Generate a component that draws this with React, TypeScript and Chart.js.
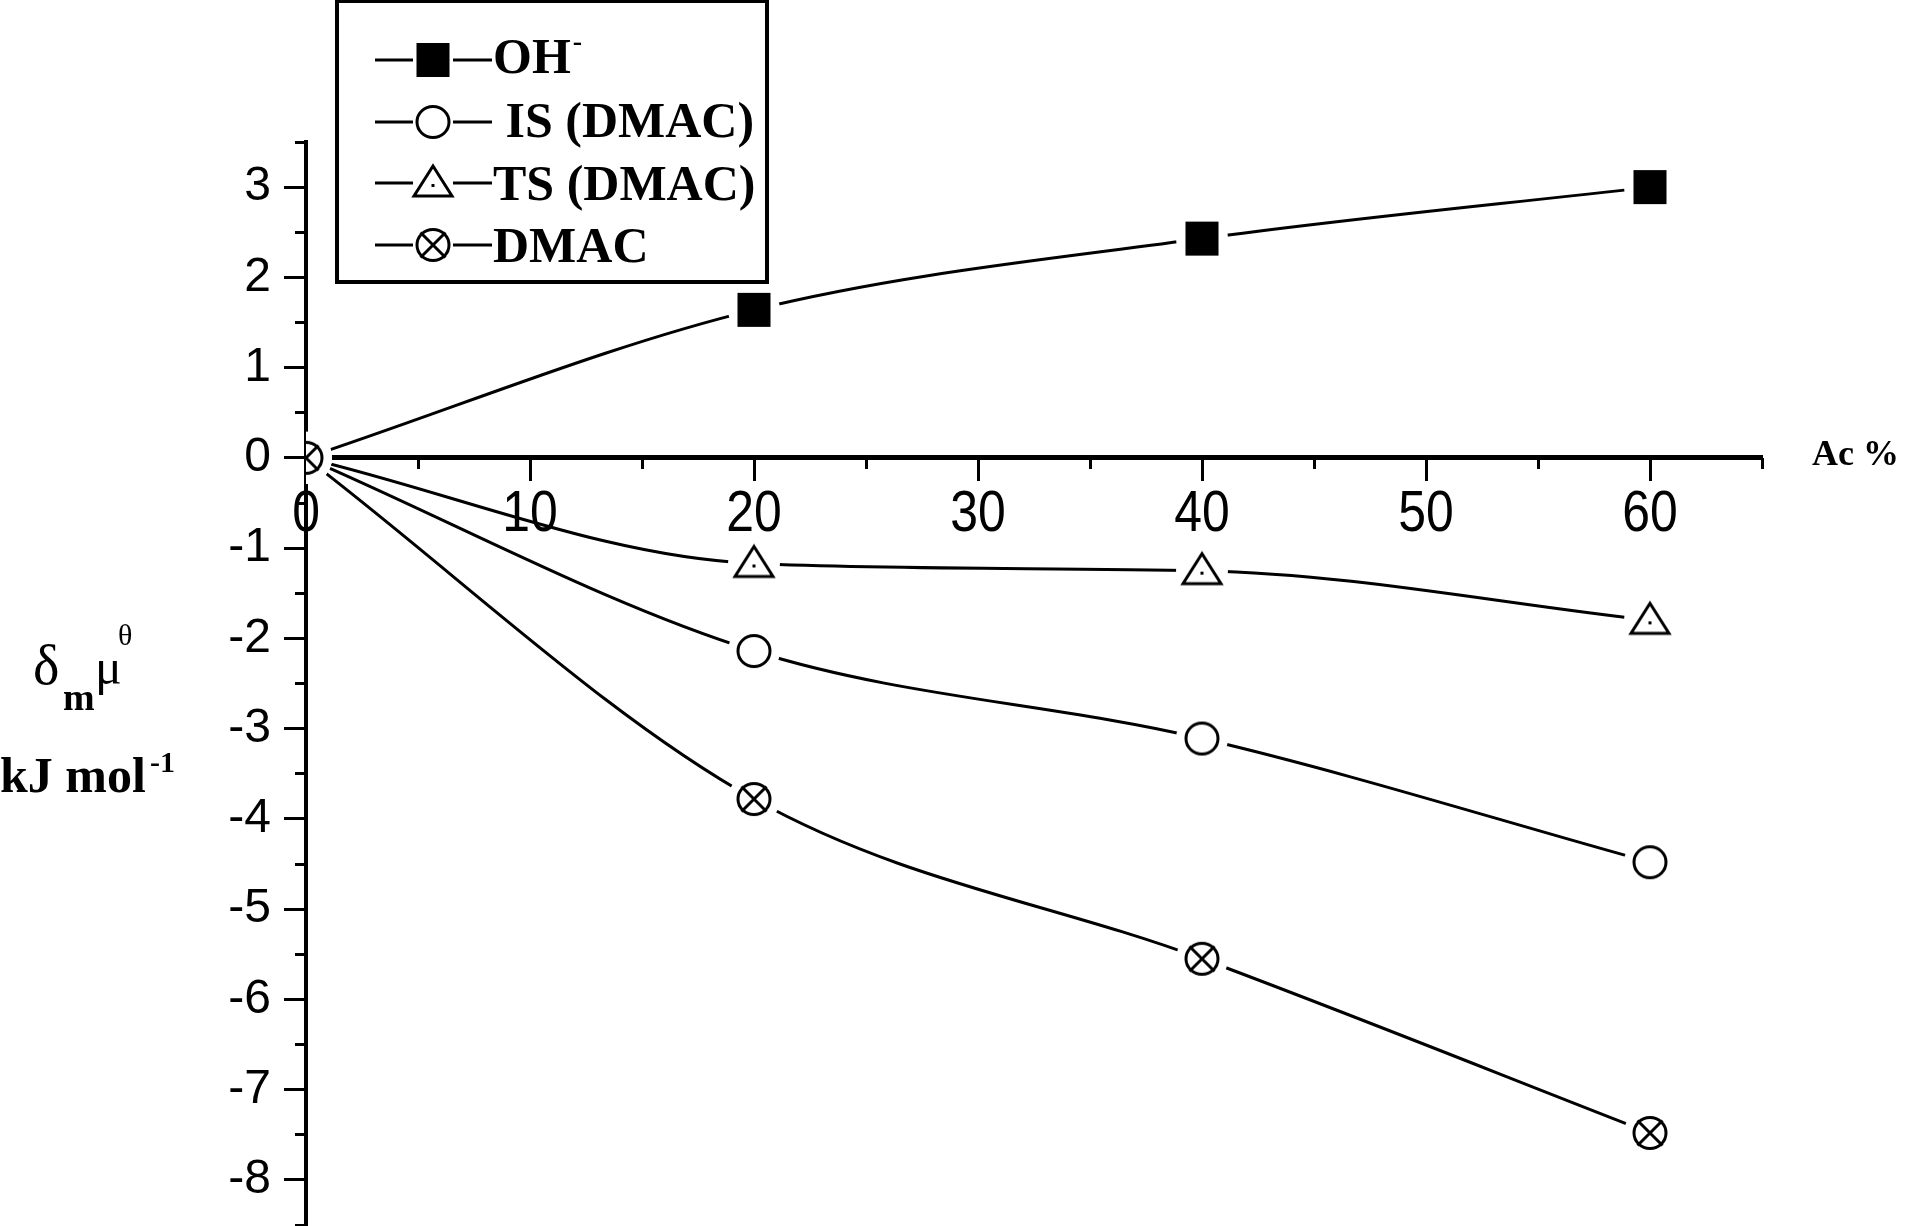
import React, { useEffect, useRef } from "react";
import { Chart, registerables, LinearScale } from "chart.js";

Chart.register(...registerables);

// ---- data ----
const X_VALUES = [0, 20, 40, 60];
const OH_VALUES = [0, 1.64, 2.43, 3.0];
const IS_VALUES = [0, -2.14, -3.11, -4.48];
const TS_VALUES = [0, -1.17, -1.25, -1.8];
const DMAC_VALUES = [0, -3.78, -5.55, -7.48];

const SERIES_NAMES = ["OH", " IS (DMAC)", "TS (DMAC)", "DMAC"];
const SERIES_MARKERS = ["square", "circle", "triangle", "crossed"];

const X_TICK_VALUES = [0, 10, 20, 30, 40, 50, 60];
const Y_TICK_VALUES = [-8, -7, -6, -5, -4, -3, -2, -1, 0, 1, 2, 3];

const X_MIN = 0;
const X_MAX = 65;
const X_MINOR_STEP = 5;
const Y_MIN = -8.5;
const Y_MAX = 3.5;
const Y_MINOR_STEP = 0.5;

const X_TITLE = "Ac %";
const Y_TITLE_PARTS = ["δ", "m", "μ", "θ"];
const Y_UNIT = "kJ mol";
const Y_UNIT_SUP = "-1";

const SERIF = "'Liberation Serif', 'Times New Roman', serif";
const SANS = "'Liberation Sans', Arial, sans-serif";

// Linear scale whose tick labels are drawn horizontally condensed (like Arial Narrow)
class CondensedLinearScale extends (LinearScale as any) {
  static id = "condensedLinear";
  static defaults = {};
  drawLabels(chartArea: any) {
    const opts = (this as any).options;
    if (!opts.display || !opts.ticks.display) return;
    const ctx = (this as any).ctx as CanvasRenderingContext2D;
    const items = (this as any).getLabelItems(chartArea);
    const sx = opts.ticks.condense || 1;
    for (const item of items) {
      const { label, font, textOffset, options } = item;
      ctx.save();
      ctx.translate(options.translation[0], options.translation[1]);
      ctx.scale(sx, 1);
      ctx.font = font.string;
      ctx.fillStyle = options.color;
      ctx.textAlign = options.textAlign;
      ctx.textBaseline = options.textBaseline;
      ctx.fillText(String(label), 0, textOffset);
      ctx.restore();
    }
  }
}
Chart.register(CondensedLinearScale as any);

function makeMarker(kind: string, halo: boolean): HTMLCanvasElement {
  const c = document.createElement("canvas");
  const size = 60;
  c.width = size;
  c.height = size;
  const ctx = c.getContext("2d")!;
  const cx = size / 2;
  const cy = size / 2;
  if (halo) {
    ctx.fillStyle = "#fff";
    ctx.beginPath();
    ctx.arc(cx, cy, 26, 0, Math.PI * 2);
    ctx.fill();
  }
  ctx.lineWidth = 3;
  ctx.strokeStyle = "#000";
  ctx.fillStyle = "#000";
  if (kind === "square") {
    ctx.fillRect(cx - 16.5, cy - 17, 33, 34);
  } else if (kind === "circle") {
    ctx.beginPath();
    ctx.ellipse(cx, cy, 16, 15.5, 0, 0, Math.PI * 2);
    ctx.fillStyle = "#fff";
    ctx.fill();
    ctx.stroke();
  } else if (kind === "triangle") {
    ctx.beginPath();
    ctx.moveTo(cx, cy - 17);
    ctx.lineTo(cx + 19, cy + 13);
    ctx.lineTo(cx - 19, cy + 13);
    ctx.closePath();
    ctx.fillStyle = "#fff";
    ctx.fill();
    ctx.stroke();
    ctx.fillStyle = "#000";
    ctx.fillRect(cx - 1.5, cy + 1, 3, 3);
  } else if (kind === "crossed") {
    ctx.beginPath();
    ctx.ellipse(cx, cy, 16, 15.5, 0, 0, Math.PI * 2);
    ctx.fillStyle = "#fff";
    ctx.fill();
    ctx.stroke();
    ctx.beginPath();
    ctx.moveTo(cx - 12.5, cy - 12.5);
    ctx.lineTo(cx + 12.5, cy + 12.5);
    ctx.moveTo(cx + 12.5, cy - 12.5);
    ctx.lineTo(cx - 12.5, cy + 12.5);
    ctx.stroke();
  }
  return c;
}

export default function App() {
  const canvasRef = useRef<HTMLCanvasElement | null>(null);

  useEffect(() => {
    const canvas = canvasRef.current;
    if (!canvas) return;
    const seriesValues = [OH_VALUES, IS_VALUES, TS_VALUES, DMAC_VALUES];
    const haloMarkers = SERIES_MARKERS.map((m) => makeMarker(m, true));
    const legendMarkers = SERIES_MARKERS.map((m) => makeMarker(m, false));
    const clip = { left: 0, top: false, right: false, bottom: false };

    const toPoints = (vals: number[]) => X_VALUES.map((x, i) => ({ x, y: vals[i] }));

    const lineSets = seriesValues.map((vals, i) => ({
      label: SERIES_NAMES[i] + " line",
      data: toPoints(vals),
      borderColor: "#000",
      borderWidth: 3,
      pointRadius: 0,
      cubicInterpolationMode: "monotone" as const,
      fill: false,
      clip,
      order: 3,
    }));
    const markerSets = seriesValues.map((vals, i) => ({
      label: SERIES_NAMES[i],
      data: toPoints(vals),
      showLine: false,
      pointStyle: haloMarkers[i],
      pointRadius: 26,
      borderWidth: 0,
      clip,
      order: 1 + (seriesValues.length - 1 - i) * 0.1,
    }));

    const annotations = {
      id: "annotations",
      afterDraw(chart: any) {
        const ctx = chart.ctx as CanvasRenderingContext2D;
        ctx.save();
        ctx.fillStyle = "#000";
        ctx.textAlign = "left";
        ctx.textBaseline = "alphabetic";
        // y title
        ctx.font = `56px ${SERIF}`;
        ctx.fillText(Y_TITLE_PARTS[0], 33, 684);
        ctx.font = `bold 38px ${SERIF}`;
        ctx.fillText(Y_TITLE_PARTS[1], 63, 710);
        ctx.font = `50px ${SERIF}`;
        ctx.fillText(Y_TITLE_PARTS[2], 95, 684);
        ctx.font = `30px ${SERIF}`;
        ctx.fillText(Y_TITLE_PARTS[3], 118, 645);
        ctx.font = `bold 50px ${SERIF}`;
        ctx.fillText(Y_UNIT, 0, 792);
        ctx.font = `bold 30px ${SERIF}`;
        ctx.fillText(Y_UNIT_SUP, 150, 772);
        // x title
        ctx.font = `bold 36px ${SERIF}`;
        ctx.fillText(X_TITLE, 1812, 465);

        // legend box
        ctx.fillStyle = "#fff";
        ctx.fillRect(337, 1, 430, 281);
        ctx.strokeStyle = "#000";
        ctx.lineWidth = 4;
        ctx.strokeRect(337, 1, 430, 281);
        const rowY = [60, 122, 183, 245];
        const baseY = [73, 137, 200, 262];
        ctx.lineWidth = 3;
        for (let i = 0; i < SERIES_NAMES.length; i++) {
          ctx.beginPath();
          ctx.moveTo(375, rowY[i]);
          ctx.lineTo(413, rowY[i]);
          ctx.moveTo(453, rowY[i]);
          ctx.lineTo(492, rowY[i]);
          ctx.stroke();
          const m = legendMarkers[i];
          ctx.drawImage(m, 433 - m.width / 2, rowY[i] - m.height / 2);
          ctx.fillStyle = "#000";
          ctx.font = `bold 50px ${SERIF}`;
          ctx.fillText(SERIES_NAMES[i], 493, baseY[i]);
          if (i === 0) {
            const w = ctx.measureText(SERIES_NAMES[i]).width;
            ctx.font = `bold 28px ${SERIF}`;
            ctx.fillText("-", 493 + w + 2, 50);
          }
        }
        ctx.restore();
      },
    };

    const chart = new Chart(canvas, {
      type: "line",
      data: { datasets: [...lineSets, ...markerSets] as any },
      options: {
        responsive: false,
        animation: false,
        events: [],
        layout: { autoPadding: false, padding: { left: 0, top: 142, right: 145, bottom: 1 } },
        plugins: {
          legend: { display: false },
          tooltip: { enabled: false },
          title: { display: false },
        },
        scales: {
          x: {
            type: "condensedLinear" as any,
            axis: "x",
            min: X_MIN,
            max: X_MAX,
            position: { y: 0 } as any,
            z: 1,
            afterBuildTicks: (scale: any) => {
              scale.ticks = X_TICK_VALUES.map((value) => ({ value }));
            },
            grid: {
              drawOnChartArea: false,
              drawTicks: true,
              tickLength: 21,
              tickWidth: 3,
              tickColor: "#000",
            },
            border: { display: true, width: 5, color: "#000" },
            ticks: {
              autoSkip: false,
              maxRotation: 0,
              color: "#000",
              padding: 1,
              condense: 0.86,
              font: { family: SANS, size: 58, lineHeight: 1.2 },
            } as any,
          },
          x2: {
            type: "linear",
            axis: "x",
            min: X_MIN,
            max: X_MAX,
            position: { y: 0 } as any,
            z: 1,
            grid: {
              drawOnChartArea: false,
              drawTicks: true,
              tickLength: 11,
              tickWidth: 3,
              tickColor: "#000",
            },
            border: { display: false },
            ticks: { stepSize: X_MINOR_STEP, display: false, autoSkip: false },
          },
          y: {
            type: "linear",
            min: Y_MIN,
            max: Y_MAX,
            position: "left",
            weight: 1,
            z: 1,
            afterBuildTicks: (scale: any) => {
              scale.ticks = Y_TICK_VALUES.map((value) => ({ value }));
            },
            afterFit: (scale: any) => {
              scale.width = 306;
              scale.paddingTop = 0;
              scale.paddingBottom = 0;
            },
            grid: {
              drawOnChartArea: false,
              drawTicks: true,
              tickLength: 22,
              tickWidth: 3,
              tickColor: "#000",
            },
            border: { display: true, width: 4, color: "#000" },
            ticks: {
              autoSkip: false,
              color: "#000",
              padding: 13,
              font: { family: SANS, size: 48 },
            },
          },
          y2: {
            type: "linear",
            axis: "y",
            min: Y_MIN,
            max: Y_MAX,
            position: { x: 0 } as any,
            z: 1,
            grid: {
              drawOnChartArea: false,
              drawTicks: true,
              tickLength: 11,
              tickWidth: 3,
              tickColor: "#000",
            },
            border: { display: false },
            ticks: { stepSize: Y_MINOR_STEP, display: false, autoSkip: false },
          },
        },
      },
      plugins: [annotations],
    });

    return () => {
      chart.destroy();
    };
  }, []);

  return (
    <div style={{ position: "absolute", left: 0, top: 0, width: 1907, height: 1226, background: "#fff" }}>
      <canvas ref={canvasRef} width={1907} height={1226} style={{ display: "block" }} />
    </div>
  );
}
